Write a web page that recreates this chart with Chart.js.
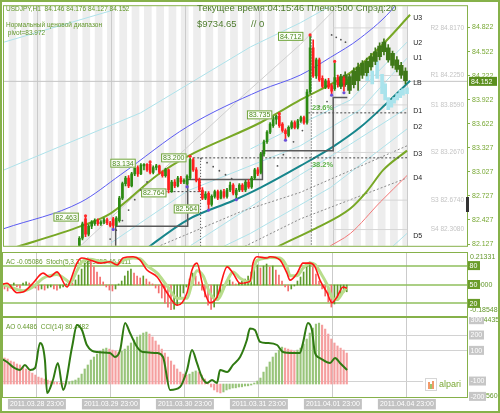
<!DOCTYPE html>
<html>
<head>
<meta charset="utf-8">
<title>USDJPY H1</title>
<script src="https://cdn.jsdelivr.net/npm/chart.js@4.4.1/dist/chart.umd.min.js"></script>
<style>
  body { margin: 0; background: #ffffff; }
  #wrap { position: relative; width: 500px; height: 413px; overflow: hidden; background: #ffffff; }
  #wrap canvas { position: absolute; left: 0; }
  #frame { position: absolute; left: 0; top: 0; width: 500px; height: 413px; box-sizing: border-box; border: 2px solid #86b14a; pointer-events: none; }
</style>
</head>
<body>
<div id="wrap">
  <canvas id="mainChart" width="500" height="252" style="top:0px"></canvas>
  <canvas id="acChart" width="500" height="65" style="top:252px"></canvas>
  <canvas id="aoChart" width="500" height="96" style="top:317px"></canvas>
  <div id="frame"></div>
</div>
<script>
// ---------- DATA: AXES ----------
var priceTicks = [82.127, 82.427, 82.727, 83.027, 83.327, 83.622, 83.922, 84.222, 84.522, 84.822];
var dayLines = [10.5, 34.5, 58.5, 82.5, 106.5, 130.5];
var dayLabels = ["2011.03.28 23:00", "2011.03.29 23:00", "2011.03.30 23:00", "2011.03.31 23:00", "2011.04.01 23:00", "2011.04.04 23:00"];

// ---------- DATA: USDJPY H1 CANDLES (bars before index 24 sit below the window) ----------
var firstBar = 24;
var opens  = [82.05, 82.20, 82.44, 82.25, 82.35, 82.38, 82.42, 82.38, 82.40, 82.43, 82.39, 82.44, 82.36, 82.42, 82.70, 82.88, 82.95, 82.85, 83.00, 83.08, 83.00, 83.10, 83.12, 83.12, 83.02, 83.08, 83.10, 83.02, 82.98, 83.05, 82.78, 82.90, 82.85, 82.95, 82.90, 82.88, 82.95, 83.18, 83.05, 82.92, 82.80, 82.70, 82.76, 82.62, 82.72, 82.78, 82.70, 82.78, 82.72, 82.80, 82.86, 82.74, 82.80, 82.86, 82.80, 82.90, 82.84, 82.95, 83.05, 83.02, 83.25, 83.40, 83.52, 83.60, 83.68, 83.72, 83.62, 83.54, 83.48, 83.58, 83.64, 83.58, 83.66, 83.70, 83.64, 84.02, 84.57, 84.22, 84.42, 84.19, 84.08, 84.16, 84.10, 84.06, 84.20, 84.11, 84.19, 84.13];
var highs  = [82.22, 82.40, 82.463, 82.37, 82.42, 82.44, 82.44, 82.42, 82.45, 82.45, 82.41, 82.46, 82.47, 82.72, 82.90, 82.97, 82.98, 83.02, 83.10, 83.10, 83.13, 83.13, 83.13, 83.134, 83.10, 83.12, 83.11, 83.04, 83.07, 83.06, 82.92, 82.93, 82.97, 82.97, 82.94, 82.99, 83.20, 83.20, 83.08, 82.95, 82.83, 82.78, 82.78, 82.74, 82.80, 82.80, 82.80, 82.81, 82.82, 82.90, 82.88, 82.82, 82.88, 82.88, 82.92, 82.93, 82.97, 83.07, 83.08, 83.27, 83.42, 83.54, 83.64, 83.72, 83.73, 83.735, 83.64, 83.56, 83.60, 83.66, 83.66, 83.68, 83.72, 83.72, 84.05, 84.712, 84.67, 84.44, 84.44, 84.22, 84.18, 84.19, 84.12, 84.38, 84.23, 84.21, 84.21, 84.176];
var lows   = [82.00, 82.18, 82.22, 82.23, 82.32, 82.36, 82.36, 82.36, 82.38, 82.37, 82.34, 82.33, 82.35, 82.40, 82.68, 82.85, 82.83, 82.84, 82.98, 82.97, 82.99, 83.05, 83.03, 83.00, 83.00, 83.05, 83.00, 82.96, 82.96, 82.764, 82.77, 82.83, 82.84, 82.88, 82.88, 82.86, 82.93, 83.03, 82.90, 82.78, 82.68, 82.68, 82.564, 82.60, 82.70, 82.68, 82.69, 82.70, 82.70, 82.78, 82.74, 82.70, 82.78, 82.78, 82.78, 82.82, 82.82, 82.93, 82.98, 83.00, 83.22, 83.38, 83.50, 83.58, 83.62, 83.58, 83.52, 83.44, 83.46, 83.56, 83.56, 83.56, 83.64, 83.62, 83.62, 84.00, 84.20, 84.19, 84.15, 84.07, 84.06, 84.06, 84.00, 84.04, 84.08, 84.09, 84.03, 84.127];
var closes = [82.20, 82.38, 82.25, 82.35, 82.40, 82.42, 82.38, 82.40, 82.43, 82.39, 82.36, 82.36, 82.45, 82.70, 82.88, 82.95, 82.85, 83.00, 83.08, 83.00, 83.11, 83.12, 83.05, 83.02, 83.08, 83.10, 83.02, 82.98, 83.05, 82.80, 82.90, 82.85, 82.95, 82.90, 82.92, 82.97, 83.18, 83.05, 82.92, 82.80, 82.70, 82.75, 82.62, 82.72, 82.78, 82.70, 82.78, 82.72, 82.80, 82.86, 82.76, 82.80, 82.86, 82.80, 82.90, 82.84, 82.95, 83.05, 83.00, 83.25, 83.40, 83.52, 83.62, 83.70, 83.72, 83.60, 83.54, 83.50, 83.58, 83.64, 83.58, 83.66, 83.70, 83.64, 84.02, 84.57, 84.22, 84.42, 84.17, 84.09, 84.16, 84.08, 84.03, 84.20, 84.11, 84.19, 84.13, 84.152];

// ---------- DATA: PROJECTED CANDLES ----------
var fcIdx  = [109, 110.4, 111.8, 113.2, 114.6, 116, 117.4, 118.8, 120.2, 121.6, 123, 124.4, 125.8, 127.2, 128.6, 130];
var fcTop  = [84.21, 84.23, 84.21, 84.28, 84.33, 84.38, 84.40, 84.46, 84.52, 84.59, 84.64, 84.57, 84.50, 84.42, 84.35, 84.28];
var fcBot  = [84.09, 84.11, 84.04, 84.11, 84.16, 84.23, 84.26, 84.33, 84.40, 84.46, 84.52, 84.42, 84.35, 84.30, 84.23, 84.16];
var fcHigh = [84.24, 84.27, 84.24, 84.32, 84.38, 84.41, 84.44, 84.50, 84.57, 84.63, 84.68, 84.61, 84.53, 84.46, 84.39, 84.32];
var fcLow  = [84.06, 84.09, 84.00, 84.07, 84.04, 84.19, 84.22, 84.29, 84.36, 84.42, 84.48, 84.39, 84.32, 84.27, 84.19, 84.12];
var cyIdx  = [117.6, 119.2, 120.8, 122.4, 123.4, 124.4, 125.4, 126.3, 127.3, 128.3, 129.2, 130.5];
var cyTop  = [84.31, 84.28, 84.40, 84.24, 84.12, 83.95, 83.92, 83.95, 84.00, 84.04, 84.06, 84.07];
var cyBot  = [84.16, 84.12, 84.19, 84.00, 83.92, 83.80, 83.83, 83.88, 83.92, 83.95, 83.98, 84.00];

// ---------- DATA: LINES ON THE PRICE WINDOW, [bar index, price] ----------
var blueLine   = [[-0.5, 82.32], [24.5, 82.65], [37.4, 82.99], [59.2, 83.59], [82.9, 84.04], [95.8, 84.23], [105.6, 84.45], [115.3, 84.69], [126.6, 85.09], [128.5, 85.2]];
var upperOlive = [[1.8, 82.07], [24.5, 82.35], [34.2, 82.51], [49.5, 82.99], [59.2, 83.22], [82.9, 83.64], [95.8, 83.92], [112.1, 84.26], [121.8, 84.58], [131.5, 84.98]];
var tealLine   = [[43.9, 82.01], [47.2, 82.11], [59.2, 82.43], [74.1, 82.67], [82.9, 82.83], [95.8, 83.10], [106.5, 83.34], [115.3, 83.58], [123.4, 83.86], [131.5, 84.16]];
var lowerOlive = [[82.9, 81.96], [89.3, 82.11], [100.1, 82.31], [112.1, 82.57], [117.6, 82.79], [122.8, 83.05], [130.5, 83.29]];
var redLine    = [[102.3, 82.01], [104.6, 82.08], [112.1, 82.26], [121.8, 82.65], [130.5, 82.98]];
var cyanLines  = [
  [[-0.5, 84.64], [34.2, 85.03]],
  [[-0.5, 83.05], [43.9, 83.76], [79.6, 84.58], [95.8, 84.88], [105.6, 85.09]],
  [[79.6, 83.31], [95.8, 83.62], [112.1, 83.92], [130.5, 84.64]],
  [[34.2, 82.14], [59.2, 82.79], [95.8, 83.35], [115.3, 83.80], [130.5, 84.44]],
  [[60.2, 82.11], [95.8, 82.99], [112.1, 83.37], [130.5, 83.82]],
  [[63.4, 81.96], [79.6, 82.26], [105.6, 82.83], [130.5, 83.56]],
  [[121.8, 81.96], [130.5, 82.26]]
];
var grayLine   = [[24.5, 82.11], [77.4, 83.98], [95.8, 84.61], [110.4, 85.18]];
var grayDashed = [
  [[50.4, 82.11], [76.4, 82.53], [95.8, 82.77], [130.5, 83.35]],
  [[73.1, 82.01], [95.8, 82.44], [130.5, 82.95]]
];
var stepLine   = [[35.8, 82.0], [35.8, 82.35], [59.2, 82.35], [59.2, 82.93], [83.5, 82.93], [83.5, 83.29], [106.5, 83.29], [106.5, 83.95], [111.1, 83.95]];
var levelLines = [[[61, 83.2], [130.5, 83.2]], [[98.4, 83.76], [130.5, 83.76]], [[52, 82.78], [65, 82.78]]];
var dropLines  = [[[63.4, 83.2], [63.4, 81.9]], [[99.4, 84.71], [99.4, 81.9]]];
var bidPrice = 84.152;

var pivotNames  = ["R2", "R1", "S1", "S2", "S3", "S4"];
var pivotValues = [84.817, 84.225, 83.859, 83.267, 82.674, 82.308];

var fractalUp   = [[26, 82.48], [47, 83.15], [60, 83.22], [89, 83.75], [99, 84.73], [107, 84.40]];
var fractalDown = [[35, 82.31], [59, 82.84], [66, 82.55], [75, 82.68], [91, 83.42], [106, 83.98], [110, 84.01]];
var sarDots = [[34, 82.19], [36, 82.30], [38, 82.42], [40, 82.55], [42, 82.68], [44, 82.80], [46, 82.90],
  [63.5, 83.19], [65.5, 83.14], [67.5, 83.09], [69.5, 83.04], [71.5, 82.99], [73.5, 82.94],
  [88.4, 83.10], [90.3, 83.24], [93.6, 83.40], [96.5, 83.54], [102, 83.84], [104.5, 83.90],
  [106, 84.73], [107.5, 84.70], [109, 84.67], [110.5, 84.64]];

var tagIdx = [26.1, 44.6, 54.6, 61.1, 65.2, 89.0, 99.1];
var tagVal = [82.463, 83.134, 82.764, 83.200, 82.564, 83.735, 84.712];
var chanNames  = ["U3", "U2", "U1", "LB", "D1", "D2", "D3", "D4", "D5"];
var chanValues = [84.94, 84.63, 84.44, 84.13, 83.78, 83.58, 83.25, 82.95, 82.23];

// ---------- DATA: AC + STOCHASTIC ----------
var acValues = [-0.030, -0.045, -0.023, 0.015, -0.015, -0.023, 0.015, 0.023, 0.015, -0.015,
  -0.023, -0.038, -0.030, -0.038, -0.023, -0.015, -0.030, -0.038, -0.023, -0.015,
  0.008, 0.023, 0.015, 0.038, 0.075, 0.120, 0.166, 0.203, 0.181, 0.136,
  0.098, 0.060, 0.023, -0.015, -0.038, -0.045, -0.030, 0.004, 0.030, 0.068,
  0.105, 0.120, 0.090, 0.068, 0.053, 0.068, 0.045, 0.023, 0.008, -0.023,
  -0.060, -0.098, -0.136, -0.166, -0.185, -0.181, -0.151, -0.105, -0.060, -0.015,
  0.045, 0.090, 0.068, 0.023, -0.038, -0.090, -0.151, -0.184, -0.166, -0.113,
  -0.068, -0.030, 0.008, 0.038, 0.023, 0.002, 0.015, 0.030, 0.045, 0.068,
  0.098, 0.128, 0.151, 0.128, 0.143, 0.158, 0.136, 0.143, 0.113, 0.075,
  0.030, -0.015, -0.045, -0.030, -0.002, 0.030, 0.060, 0.098, 0.143, 0.173,
  0.136, 0.083, 0.030, -0.030, -0.083, -0.128, -0.166, -0.143, -0.105, -0.075,
  -0.053, -0.051];
var stochIdx = [-1.5, 0.8, 4.0, 6.0, 9.2, 12.5, 14.7, 17.0, 20.3, 21.2, 23.5, 25.1, 27.7, 31.0, 34.2, 36.5, 38.4, 41.7, 43.9, 46.2,
  49.5, 52.7, 56.0, 59.2, 60.8, 62.4, 64.4, 66.6, 68.9, 72.2, 74.1, 76.4, 79.6, 80.6, 81.9, 85.1, 86.1, 89.3, 91.6, 92.6,
  94.9, 96.8, 99.1, 100.7, 102.3, 104.6, 106.2, 107.8, 109.8, 111.1];
var stochMain = [49, 52, 37, 38, 52, 68, 62, 70, 46, 54, 84, 92, 89, 84, 86, 81, 92, 94, 89, 73,
  62, 37, 17, 37, 73, 84, 46, 21, 30, 78, 68, 52, 55, 84, 94, 92, 94, 89, 68, 57,
  68, 84, 84, 78, 57, 37, 21, 30, 46, 44];
var stochSignal = [50, 48, 42, 40, 46, 60, 64, 66, 56, 52, 72, 86, 90, 87, 85, 83, 88, 92, 91, 80,
  68, 48, 28, 28, 52, 72, 64, 36, 26, 56, 70, 60, 54, 72, 88, 92, 93, 92, 78, 64,
  64, 76, 84, 82, 70, 50, 30, 26, 38, 46];
var stochLevels = [80, 50, 20];

// ---------- DATA: AO + CCI ----------
var aoValues = [0.183, 0.176, 0.162, 0.155, 0.141, 0.134, 0.120, 0.106, 0.092, 0.077,
  0.063, 0.049, 0.042, 0.035, 0.028, 0.021, 0.014, 0.012, 0.007, 0.006,
  0.014, 0.016, 0.021, 0.028, 0.042, 0.070, 0.106, 0.134, 0.169, 0.190,
  0.211, 0.232, 0.246, 0.253, 0.246, 0.239, 0.232, 0.225, 0.232, 0.246,
  0.268, 0.289, 0.310, 0.331, 0.345, 0.359, 0.366, 0.352, 0.331, 0.303,
  0.275, 0.246, 0.218, 0.190, 0.162, 0.134, 0.106, 0.084, 0.070, 0.063,
  0.070, 0.084, 0.092, 0.084, 0.063, 0.035, 0.007, -0.021, -0.042, -0.056,
  -0.063, -0.056, -0.042, -0.035, -0.028, -0.027, -0.021, -0.020, -0.014, -0.013,
  -0.007, 0.007, 0.021, 0.042, 0.084, 0.120, 0.155, 0.190, 0.218, 0.239,
  0.260, 0.253, 0.246, 0.239, 0.232, 0.239, 0.253, 0.282, 0.317, 0.359,
  0.394, 0.422, 0.429, 0.415, 0.387, 0.352, 0.317, 0.289, 0.268, 0.253,
  0.239, 0.218];
var cciIdx = [-1.5, 0.8, 2.7, 5.0, 6.6, 8.3, 9.9, 11.5, 13.1, 13.8, 15.7, 17.3, 19.0, 21.9, 23.5, 25.1, 26.7, 30.0, 34.2, 35.8,
  37.5, 39.1, 40.7, 43.0, 44.9, 49.5, 51.4, 53.7, 56.9, 59.2, 60.8, 62.4, 64.0, 65.7, 67.3, 68.9, 69.9, 72.2, 74.1, 76.4,
  78.6, 79.6, 81.2, 82.9, 85.1, 88.4, 90.3, 93.6, 95.8, 96.8, 98.4, 99.7, 100.7, 102.3, 105.6, 107.2, 108.8, 111.1];
var cciValues = [50, 24, -8, -28, 5, -28, -15, 148, 37, -178, -93, 18, -158, 122, 266, 233, 135, 89, 83, 57,
  102, 279, 213, 122, 89, 83, 57, -158, -139, -28, 102, 18, -74, -113, -93, -113, -28, -41, 5, 57,
  168, 243, 233, 155, 148, 135, 89, 83, 83, 148, 279, 233, 83, 50, 18, 50, 18, -28];
var cciGrid = [200, 100, -100];

// ---------- HELPERS ----------
Chart.defaults.font.family = "'Liberation Sans', Arial, sans-serif";
var GREEN = "#86b14a";
var TEXTGREEN = "#64982c";

var toPoints = function (list) {
  return list.map(function (p) { return { x: p[0], y: p[1] }; });
};

var lineSet = function (list, color, width, dash, order, smooth, axis) {
  return {
    type: "line", data: toPoints(list), yAxisID: axis || "y",
    borderColor: color, borderWidth: width, borderDash: dash || [],
    pointRadius: 0, fill: false, order: order,
    tension: 0, cubicInterpolationMode: smooth ? "monotone" : "default"
  };
};

var dotSet = function (list, color, r, order) {
  return { type: "line", data: toPoints(list), showLine: false, pointRadius: r,
    pointBackgroundColor: color, pointBorderWidth: 0, order: order };
};

var barSet = function (data, colors, thick, order, axis) {
  return { type: "bar", data: data, backgroundColor: colors, barThickness: thick,
    grouped: false, minBarLength: 1, order: order, yAxisID: axis || "y" };
};

var trendColors = function (vals, up, down) {
  return vals.map(function (v, k) { return (k > 0 && v > vals[k - 1]) ? up : down; });
};

var txt = function (ctx, s, x, y, font, color, align) {
  ctx.font = font;
  ctx.fillStyle = color;
  ctx.textAlign = align || "left";
  ctx.textBaseline = "middle";
  ctx.fillText(s, x, y);
};

var boxLabel = function (ctx, s, x, y, w, fill, color) {
  ctx.fillStyle = fill;
  ctx.fillRect(x, y - 4.5, w, 9);
  txt(ctx, s, x + 1.5, y + 0.5, "7px 'Liberation Sans'", color, "left");
};

var frameArea = function (chart) {
  var a = chart.chartArea, ctx = chart.ctx;
  ctx.strokeStyle = GREEN;
  ctx.lineWidth = 1;
  ctx.strokeRect(a.left - 0.5, a.top - 0.5, a.right - a.left + 1, a.bottom - a.top + 1);
};

var timeAxis = function (height, showLabels) {
  return {
    type: "linear", min: -0.5, max: 150, offset: false, bounds: "data",
    afterBuildTicks: function (s) { s.ticks = dayLines.map(function (v) { return { value: v }; }); },
    afterFit: function (s) { s.height = height; },
    grid: { color: "#cbcbcb", drawTicks: false, offset: false },
    border: { display: false },
    ticks: showLabels ? {
      autoSkip: false, maxRotation: 0, padding: 3, color: "#ffffff",
      font: { size: 7 }, showLabelBackdrop: true, backdropColor: "#c2c2c2",
      backdropPadding: { left: 2, right: 2, top: 1, bottom: 1 },
      callback: function (v, k) { return dayLabels[k]; }
    } : { display: false }
  };
};

var rightFrameAxis = function (min, max) {
  return {
    type: "linear", position: "right", min: min, max: max,
    afterFit: function (s) { s.width = 33; },
    ticks: { display: false },
    grid: { drawOnChartArea: false, drawTicks: false },
    border: { color: GREEN }
  };
};

// ---------- MAIN PRICE WINDOW ----------
var candleX = closes.map(function (c, k) { return firstBar + k; });
var candleColors = closes.map(function (c, k) { return c >= opens[k] ? "#2c8a12" : "#ff1f1f"; });
var wickData = candleX.map(function (x, k) { return { x: x, y: [lows[k], highs[k]] }; });
var bodyData = candleX.map(function (x, k) { return { x: x, y: [opens[k], closes[k]] }; });
var fcWick = fcIdx.map(function (x, k) { return { x: x, y: [fcLow[k], fcHigh[k]] }; });
var fcBody = fcIdx.map(function (x, k) { return { x: x, y: [fcBot[k], fcTop[k]] }; });
var cyBody = cyIdx.map(function (x, k) { return { x: x, y: [cyBot[k], cyTop[k]] }; });

var mainSets = [];
cyanLines.forEach(function (l) { mainSets.push(lineSet(l, "#aee2ea", 1, [], 30)); });
mainSets.push(lineSet(grayLine, "#cfcfcf", 1, [], 29));
grayDashed.forEach(function (l) { mainSets.push(lineSet(l, "#8a8a8a", 1, [2, 2], 28)); });
pivotValues.forEach(function (v) { mainSets.push(lineSet([[106.5, v], [130.5, v]], "#d6d6d6", 1, [], 27)); });
mainSets.push(lineSet([[-0.5, bidPrice], [150, bidPrice]], "#c4c4c4", 1, [], 27));
mainSets.push(lineSet(blueLine, "#5b5bf2", 1, [], 20, true));
mainSets.push(lineSet(upperOlive, "#78a826", 2, [], 19, true));
mainSets.push(lineSet(lowerOlive, "#78a826", 2, [], 19, true));
mainSets.push(lineSet(tealLine, "#17868c", 2, [], 19, true));
mainSets.push(lineSet(redLine, "#f27878", 1, [], 19, true));
mainSets.push(lineSet(stepLine, "#5a5a5a", 1.5, [], 15));
levelLines.forEach(function (l) { mainSets.push(lineSet(l, "#444444", 1, [2, 2], 15)); });
dropLines.forEach(function (l) { mainSets.push(lineSet(l, "#444444", 1, [1, 2], 15)); });
mainSets.push(barSet(cyBody, "#a9e3ec", 3, 9));
mainSets.push(barSet(fcWick, "#3f7818", 1, 8));
mainSets.push(barSet(fcBody, "#3f7818", 4, 7));
mainSets.push(barSet(wickData, candleColors, 1, 5));
mainSets.push(barSet(bodyData, candleColors, 2, 4));
mainSets.push(dotSet(sarDots, "#555555", 0.9, 3));
mainSets.push(dotSet(fractalUp, "#ff2b2b", 1.6, 2));
mainSets.push(dotSet(fractalDown, "#6a4fd8", 1.6, 2));

var mainDecor = {
  id: "mainDecor",
  beforeDraw: function (chart) {
    var ctx = chart.ctx, a = chart.chartArea, xs = chart.scales.x;
    ctx.save();
    ctx.fillStyle = "#ededed";
    for (var s = -0.5; s < 130.5; s += 4) {
      var x0 = xs.getPixelForValue(s + 1.5), x1 = xs.getPixelForValue(Math.min(s + 4, 130.5));
      ctx.fillRect(x0, a.top, x1 - x0, a.bottom - a.top);
    }
    ctx.restore();
  },
  afterDraw: function (chart) {
    var ctx = chart.ctx, a = chart.chartArea, xs = chart.scales.x, ys = chart.scales.y;
    ctx.save();
    frameArea(chart);

    // high / low tags
    ctx.font = "7px 'Liberation Sans'";
    for (var k = 0; k < tagIdx.length; k++) {
      var s = tagVal[k].toFixed(3);
      var w = ctx.measureText(s).width + 4;
      var xr = xs.getPixelForValue(tagIdx[k]) - 7, yc = ys.getPixelForValue(tagVal[k]);
      ctx.fillStyle = "#fbfdf7";
      ctx.fillRect(xr - w, yc - 4.5, w, 9);
      ctx.strokeStyle = "#6fa33a";
      ctx.lineWidth = 1;
      ctx.strokeRect(xr - w + 0.5, yc - 4, w - 1, 8);
      txt(ctx, s, xr - w / 2, yc + 0.5, "7px 'Liberation Sans'", "#4c8a1e", "center");
      ctx.font = "7px 'Liberation Sans'";
    }

    // fibo texts
    txt(ctx, "23.6%", xs.getPixelForValue(99.6), ys.getPixelForValue(83.76) - 5, "bold 7.5px 'Liberation Sans'", "#5fb34a");
    txt(ctx, "38.2%", xs.getPixelForValue(99.6), ys.getPixelForValue(83.2) + 7, "bold 7.5px 'Liberation Sans'", "#5fb34a");

    // channel names
    for (var c = 0; c < chanNames.length; c++) {
      txt(ctx, chanNames[c], xs.getPixelForValue(132.5), ys.getPixelForValue(chanValues[c]), "7px 'Liberation Sans'", "#222222");
    }
    // pivot names
    for (var p = 0; p < pivotNames.length; p++) {
      txt(ctx, pivotNames[p] + " " + pivotValues[p].toFixed(4), a.right - 3, ys.getPixelForValue(pivotValues[p]), "6.5px 'Liberation Sans'", "#c4c4c4", "right");
    }

    // current price box
    var yb = ys.getPixelForValue(bidPrice);
    ctx.fillStyle = "#5b8f1e";
    ctx.fillRect(469, yb - 4.5, 28, 9);
    txt(ctx, bidPrice.toFixed(3), 471, yb + 0.5, "7px 'Liberation Sans'", "#ffffff");
    ctx.fillStyle = "#333333";
    ctx.fillRect(466, 197, 3, 15);

    // header texts
    txt(ctx, "USDJPY,H1  84.146 84.176 84.127 84.152", 6, 9, "6.5px 'Liberation Sans'", TEXTGREEN);
    txt(ctx, "Нормальный ценовой диапазон", 6, 25, "6.5px 'Liberation Sans'", TEXTGREEN);
    txt(ctx, " pivot=83.972", 6, 33, "6.5px 'Liberation Sans'", TEXTGREEN);
    txt(ctx, "Текущее время:04:15:46 Плечо:500 Спрэд:20", 197, 8, "9.5px 'Liberation Sans'", "#4f7c2e");
    txt(ctx, "$9734.65", 197, 24, "9.5px 'Liberation Sans'", "#4f7c2e");
    txt(ctx, "// 0", 251, 24, "9.5px 'Liberation Sans'", "#4f7c2e");
    ctx.restore();
  }
};

var mainChart = new Chart(document.getElementById("mainChart").getContext("2d"), {
  type: "bar",
  data: { datasets: mainSets },
  plugins: [mainDecor],
  options: {
    responsive: false, animation: false, events: [],
    layout: { padding: { left: 3, top: 3, right: 0, bottom: 0 } },
    plugins: { legend: { display: false }, tooltip: { enabled: false } },
    scales: {
      x: timeAxis(2, false),
      y: {
        type: "linear", position: "right", min: 82.106, max: 85.087,
        afterBuildTicks: function (s) { s.ticks = priceTicks.map(function (v) { return { value: v }; }); },
        afterFit: function (s) { s.width = 33; },
        ticks: { color: "#78a834", font: { size: 7 }, padding: 2, autoSkip: false,
          callback: function (v) { return v.toFixed(3); } },
        grid: { drawOnChartArea: false, drawTicks: true, tickLength: 3, color: GREEN },
        border: { color: GREEN }
      }
    }
  }
});

// ---------- AC + STOCHASTIC WINDOW ----------
var acDecor = {
  id: "acDecor",
  beforeDatasetsDraw: function (chart) {
    var ctx = chart.ctx, a = chart.chartArea, ys = chart.scales.ys;
    ctx.save();
    ctx.strokeStyle = "#8fbf5c";
    ctx.lineWidth = 1.5;
    stochLevels.forEach(function (v) {
      var y = Math.round(ys.getPixelForValue(v));
      ctx.beginPath(); ctx.moveTo(a.left, y); ctx.lineTo(a.right, y); ctx.stroke();
    });
    txt(ctx, "AC -0.05086  Stoch(5,3,3) 38.3552 46.9111", 6, 10, "6.5px 'Liberation Sans'", TEXTGREEN);
    ctx.restore();
  },
  afterDraw: function (chart) {
    var ctx = chart.ctx, ys = chart.scales.ys;
    ctx.save();
    frameArea(chart);
    txt(ctx, "0.21331", 470, 5, "7px 'Liberation Sans'", TEXTGREEN);
    txt(ctx, "0.0000", 471, ys.getPixelForValue(50) + 1, "7px 'Liberation Sans'", TEXTGREEN);
    stochLevels.forEach(function (v) {
      boxLabel(ctx, String(v), 468, ys.getPixelForValue(v), 12, "#6a9c2a", "#ffffff");
    });
    txt(ctx, "-0.18548", 470, 58, "7px 'Liberation Sans'", TEXTGREEN);
    ctx.restore();
  }
};

var acChart = new Chart(document.getElementById("acChart").getContext("2d"), {
  type: "bar",
  data: {
    datasets: [
      lineSet(stochIdx.map(function (x, k) { return [x, stochMain[k]]; }), "#ff1414", 1.6, [], 1, true, "ys"),
      lineSet(stochIdx.map(function (x, k) { return [x, stochSignal[k]]; }), "#b8dd8c", 3, [], 2, true, "ys"),
      barSet(acValues.map(function (v, k) { return { x: k, y: v }; }), trendColors(acValues, "#5e9a2c", "#f36c6c"), 1, 3, "ya")
    ]
  },
  plugins: [acDecor],
  options: {
    responsive: false, animation: false, events: [],
    layout: { padding: { left: 3, top: 1, right: 0, bottom: 0 } },
    plugins: { legend: { display: false }, tooltip: { enabled: false } },
    scales: {
      x: timeAxis(1, false),
      ys: rightFrameAxis(0, 100),
      ya: { type: "linear", display: false, min: -0.2333, max: 0.2408 }
    }
  }
});

// ---------- AO + CCI WINDOW ----------
var aoDecor = {
  id: "aoDecor",
  beforeDatasetsDraw: function (chart) {
    var ctx = chart.ctx, a = chart.chartArea, yc = chart.scales.yc;
    ctx.save();
    ctx.strokeStyle = "#d2d2d2";
    ctx.lineWidth = 1;
    cciGrid.forEach(function (v) {
      var y = Math.round(yc.getPixelForValue(v)) + 0.5;
      ctx.beginPath(); ctx.moveTo(a.left, y); ctx.lineTo(a.right, y); ctx.stroke();
    });
    txt(ctx, "AO 0.4486  CCI(14) 80.4482", 6, 10, "6.5px 'Liberation Sans'", TEXTGREEN);
    ctx.restore();
  },
  afterDraw: function (chart) {
    var ctx = chart.ctx, yc = chart.scales.yc;
    ctx.save();
    frameArea(chart);
    txt(ctx, "308.4435", 470, yc.getPixelForValue(300), "7px 'Liberation Sans'", TEXTGREEN);
    txt(ctx, "-205.5601", 470, yc.getPixelForValue(-200), "7px 'Liberation Sans'", TEXTGREEN);
    [300, 200, 100, -100, -200].forEach(function (v) {
      boxLabel(ctx, String(v), 469, yc.getPixelForValue(v), v < 0 ? 17 : 15, "#c6c6c6", "#ffffff");
    });
    // alpari logo
    ctx.fillStyle = "#ffffff";
    ctx.fillRect(423, 60, 44, 16);
    ctx.strokeStyle = "#d6d6d6";
    ctx.strokeRect(425.5, 61.5, 11, 12);
    ctx.fillStyle = "#f29a6a";
    ctx.fillRect(428, 65, 2, 7);
    ctx.fillRect(432, 64, 2, 8);
    ctx.fillStyle = "#9cc46a";
    ctx.fillRect(430, 67, 2, 5);
    txt(ctx, "alpari", 439, 68, "9px 'Liberation Sans'", "#7aa834");
    ctx.restore();
  }
};

var aoChart = new Chart(document.getElementById("aoChart").getContext("2d"), {
  type: "bar",
  data: {
    datasets: [
      lineSet(cciIdx.map(function (x, k) { return [x, cciValues[k]]; }), "#2f7a12", 2, [], 1, true, "yc"),
      barSet(aoValues.map(function (v, k) { return { x: k, y: v }; }), trendColors(aoValues, "#98c47a", "#f59f9f"), 1.5, 2, "yo")
    ]
  },
  plugins: [aoDecor],
  options: {
    responsive: false, animation: false, events: [],
    layout: { padding: { left: 3, top: 1, right: 0, bottom: 0 } },
    plugins: { legend: { display: false }, tooltip: { enabled: false } },
    scales: {
      x: timeAxis(16, true),
      yc: rightFrameAxis(-204, 311),
      yo: { type: "linear", display: false, min: -0.0915, max: 0.465 }
    }
  }
});
</script>
</body>
</html>
